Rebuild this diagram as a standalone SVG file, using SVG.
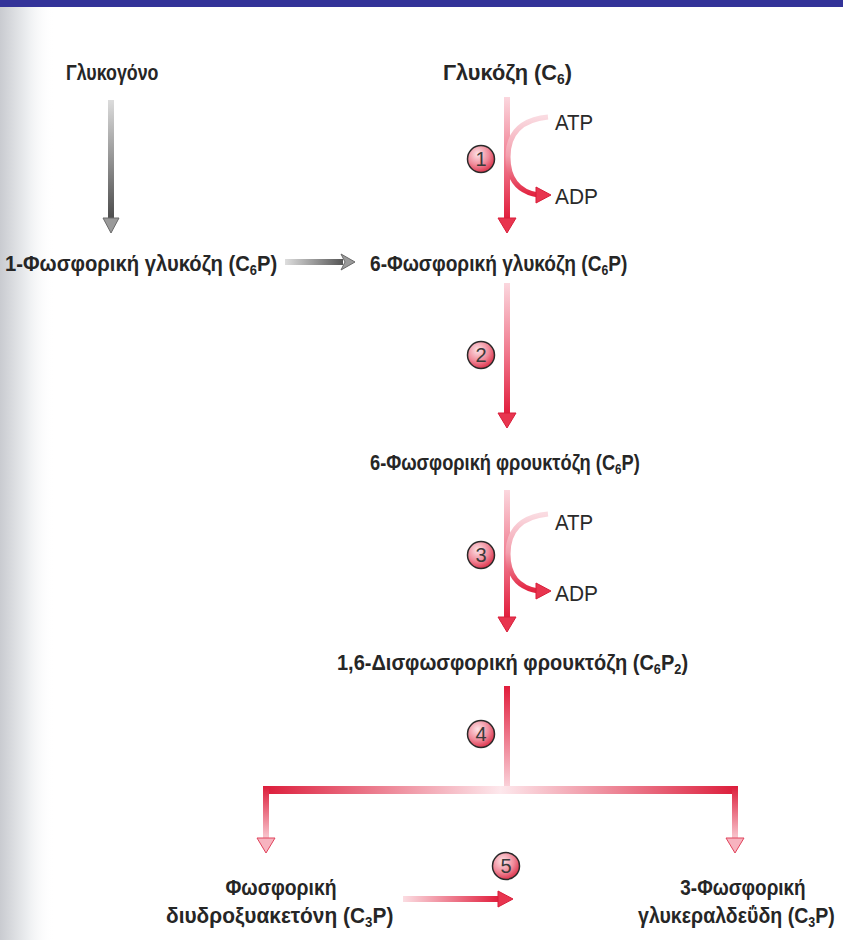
<svg xmlns="http://www.w3.org/2000/svg" width="843" height="940" viewBox="0 0 843 940">
  <defs>
    <style>
      .lbl { font-family: "Liberation Sans", Arial, sans-serif; font-weight: bold; font-size: 22px; fill: #262626; }
      .sub { font-size: 14px; }
      .nuc { font-family: "Liberation Sans", Arial, sans-serif; font-size: 22px; fill: #2a2a2a; }
      .num { font-family: "Liberation Sans", Arial, sans-serif; font-size: 20px; fill: #3a3a3a; text-anchor: middle; }
      .step { stroke: #2a2a2a; stroke-width: 1.5; fill: url(#ballFill); }
      .head-red { fill: #e8354f; stroke: #d81e3a; stroke-width: 1; stroke-linejoin: round; }
      .head-pale { fill: #f7b3bf; stroke: #e0445c; stroke-width: 1; stroke-linejoin: round; }
      .head-gray { fill: #9a9a9a; stroke: #6a6a6a; stroke-width: 1; stroke-linejoin: round; }
    </style>
    <linearGradient id="edgeShade" x1="0" y1="0" x2="1" y2="0">
      <stop offset="0" stop-color="#c9cbd0"/>
      <stop offset="0.5" stop-color="#eceef0"/>
      <stop offset="1" stop-color="#ffffff" stop-opacity="0"/>
    </linearGradient>
    <linearGradient id="shaftRed" x1="0" y1="0" x2="0" y2="1">
      <stop offset="0" stop-color="#fbd7de"/>
      <stop offset="0.55" stop-color="#f0758a"/>
      <stop offset="1" stop-color="#e11d3c"/>
    </linearGradient>
    <linearGradient id="arcRed" x1="0" y1="0" x2="0" y2="1">
      <stop offset="0" stop-color="#fadbe1"/>
      <stop offset="0.5" stop-color="#f3a0ae"/>
      <stop offset="1" stop-color="#e2223f"/>
    </linearGradient>
    <linearGradient id="shaftGray" x1="0" y1="0" x2="0" y2="1">
      <stop offset="0" stop-color="#dcdcdc"/>
      <stop offset="1" stop-color="#4a4a4a"/>
    </linearGradient>
    <linearGradient id="shaftGrayH" x1="0" y1="0" x2="1" y2="0">
      <stop offset="0" stop-color="#dedede"/>
      <stop offset="1" stop-color="#555555"/>
    </linearGradient>
    <linearGradient id="barRed" x1="263" y1="0" x2="738" y2="0" gradientUnits="userSpaceOnUse">
      <stop offset="0" stop-color="#dc1c3a"/>
      <stop offset="0.5" stop-color="#fde8ec"/>
      <stop offset="1" stop-color="#dc1c3a"/>
    </linearGradient>
    <linearGradient id="legRed" x1="0" y1="0" x2="0" y2="1">
      <stop offset="0" stop-color="#dc1c3a"/>
      <stop offset="1" stop-color="#f9c9d1"/>
    </linearGradient>
    <linearGradient id="stemRed" x1="0" y1="0" x2="0" y2="1">
      <stop offset="0" stop-color="#e11d3c"/>
      <stop offset="1" stop-color="#fbd7de"/>
    </linearGradient>
    <linearGradient id="isoRed" x1="0" y1="0" x2="1" y2="0">
      <stop offset="0" stop-color="#fbdde2"/>
      <stop offset="1" stop-color="#e11d3c"/>
    </linearGradient>
    <radialGradient id="ballFill" cx="0.38" cy="0.32" r="0.75">
      <stop offset="0" stop-color="#fde3e7"/>
      <stop offset="0.55" stop-color="#f08a9a"/>
      <stop offset="1" stop-color="#d8243e"/>
    </radialGradient>
  </defs>

  <!-- page -->
  <rect x="0" y="0" width="843" height="940" fill="#ffffff"/>
  <rect x="0" y="0" width="55" height="940" fill="url(#edgeShade)"/>
  <rect x="0" y="0" width="843" height="7" fill="#333399"/>

  <!-- connectors -->
  <g id="connectors">
    <!-- glycogen to glucose-1-phosphate -->
    <rect x="108" y="100" width="6" height="120" fill="url(#shaftGray)"/>
    <path class="head-gray" d="M103 218 L119 218 L111 233 Z"/>
    <!-- glucose-1-phosphate to glucose-6-phosphate -->
    <rect x="285" y="259" width="58" height="6" fill="url(#shaftGrayH)"/>
    <path class="head-gray" d="M341 254 L355 262 L341 270 L345 262 Z"/>

    <!-- step 1 -->
    <rect x="504" y="97" width="6" height="122" fill="url(#shaftRed)"/>
    <path class="head-red" d="M498 218 L516 218 L507 233 Z"/>
    <path d="M548 117 Q 508 121 508 157 Q 508 190 538 195" fill="none" stroke="url(#arcRed)" stroke-width="5"/>
    <path class="head-red" d="M536 187 L551 195 L536 203 Z"/>

    <!-- step 2 -->
    <rect x="504" y="283" width="6" height="131" fill="url(#shaftRed)"/>
    <path class="head-red" d="M498 413 L516 413 L507 428 Z"/>

    <!-- step 3 -->
    <rect x="504" y="490" width="6" height="128" fill="url(#shaftRed)"/>
    <path class="head-red" d="M498 617 L516 617 L507 632 Z"/>
    <path d="M548 514 Q 508 518 508 554 Q 508 586 538 591" fill="none" stroke="url(#arcRed)" stroke-width="5"/>
    <path class="head-red" d="M536 583 L551 591 L536 599 Z"/>

    <!-- step 4: split into the two triose phosphates -->
    <rect x="504" y="686" width="6" height="104" fill="url(#stemRed)"/>
    <rect x="263" y="786" width="475" height="8" fill="url(#barRed)"/>
    <rect x="263" y="786" width="6" height="53" fill="url(#legRed)"/>
    <rect x="732" y="786" width="6" height="53" fill="url(#legRed)"/>
    <path class="head-pale" d="M257 838 L275 838 L266 853 Z"/>
    <path class="head-pale" d="M726 838 L744 838 L735 853 Z"/>

    <!-- step 5 -->
    <rect x="403" y="896" width="96" height="6" fill="url(#isoRed)"/>
    <path class="head-red" d="M498 891 L513 899 L498 907 Z"/>
  </g>

  <!-- enzyme step markers -->
  <g id="step-1"><circle class="step" cx="481" cy="159" r="13.5"/><text class="num" x="481" y="166">1</text></g>
  <g id="step-2"><circle class="step" cx="481" cy="355" r="13.5"/><text class="num" x="481" y="362">2</text></g>
  <g id="step-3"><circle class="step" cx="481" cy="555" r="13.5"/><text class="num" x="481" y="562">3</text></g>
  <g id="step-4"><circle class="step" cx="481" cy="734" r="13.5"/><text class="num" x="481" y="741">4</text></g>
  <g id="step-5"><circle class="step" cx="506" cy="866" r="13.5"/><text class="num" x="506" y="873">5</text></g>

  <!-- metabolites: condensed bold lettering, narrowed horizontally -->
  <g id="glycogen">
    <text class="lbl" transform="translate(66,80) scale(0.81,1)">Γλυκογόνο</text>
  </g>
  <g id="glucose">
    <text class="lbl" transform="translate(443,80) scale(0.99,1)">Γλυκόζη (C<tspan class="sub" dy="4">6</tspan><tspan dy="-4">)</tspan></text>
  </g>
  <g id="glucose-1-phosphate">
    <text class="lbl" transform="translate(5,271) scale(0.92,1)">1-Φωσφορική γλυκόζη (C<tspan class="sub" dy="4">6</tspan><tspan dy="-4">P)</tspan></text>
  </g>
  <g id="glucose-6-phosphate">
    <text class="lbl" transform="translate(370,271) scale(0.87,1)">6-Φωσφορική γλυκόζη (C<tspan class="sub" dy="4">6</tspan><tspan dy="-4">P)</tspan></text>
  </g>
  <g id="fructose-6-phosphate">
    <text class="lbl" transform="translate(370,470) scale(0.83,1)">6-Φωσφορική φρουκτόζη (C<tspan class="sub" dy="4">6</tspan><tspan dy="-4">P)</tspan></text>
  </g>
  <g id="fructose-1-6-bisphosphate">
    <text class="lbl" transform="translate(337,670) scale(0.91,1)">1,6-Δισφωσφορική φρουκτόζη (C<tspan class="sub" dy="4">6</tspan><tspan dy="-4">P</tspan><tspan class="sub" dy="4">2</tspan><tspan dy="-4">)</tspan></text>
  </g>
  <g id="dihydroxyacetone-phosphate">
    <text class="lbl" text-anchor="middle" transform="translate(281,895) scale(0.88,1)">Φωσφορική</text>
    <text class="lbl" transform="translate(166,923) scale(0.95,1)">διυδροξυακετόνη (C<tspan class="sub" dy="4">3</tspan><tspan dy="-4">P)</tspan></text>
  </g>
  <g id="glyceraldehyde-3-phosphate">
    <text class="lbl" text-anchor="middle" transform="translate(743,895) scale(0.86,1)">3-Φωσφορική</text>
    <text class="lbl" transform="translate(638,923) scale(0.89,1)">γλυκεραλδεΰδη (C<tspan class="sub" dy="4">3</tspan><tspan dy="-4">P)</tspan></text>
  </g>

  <!-- cofactors -->
  <g id="atp-1"><text class="nuc" transform="translate(555,130) scale(0.93,1)">ATP</text></g>
  <g id="adp-1"><text class="nuc" transform="translate(555,204) scale(0.95,1)">ADP</text></g>
  <g id="atp-3"><text class="nuc" transform="translate(555,530) scale(0.93,1)">ATP</text></g>
  <g id="adp-3"><text class="nuc" transform="translate(555,601) scale(0.95,1)">ADP</text></g>
</svg>
